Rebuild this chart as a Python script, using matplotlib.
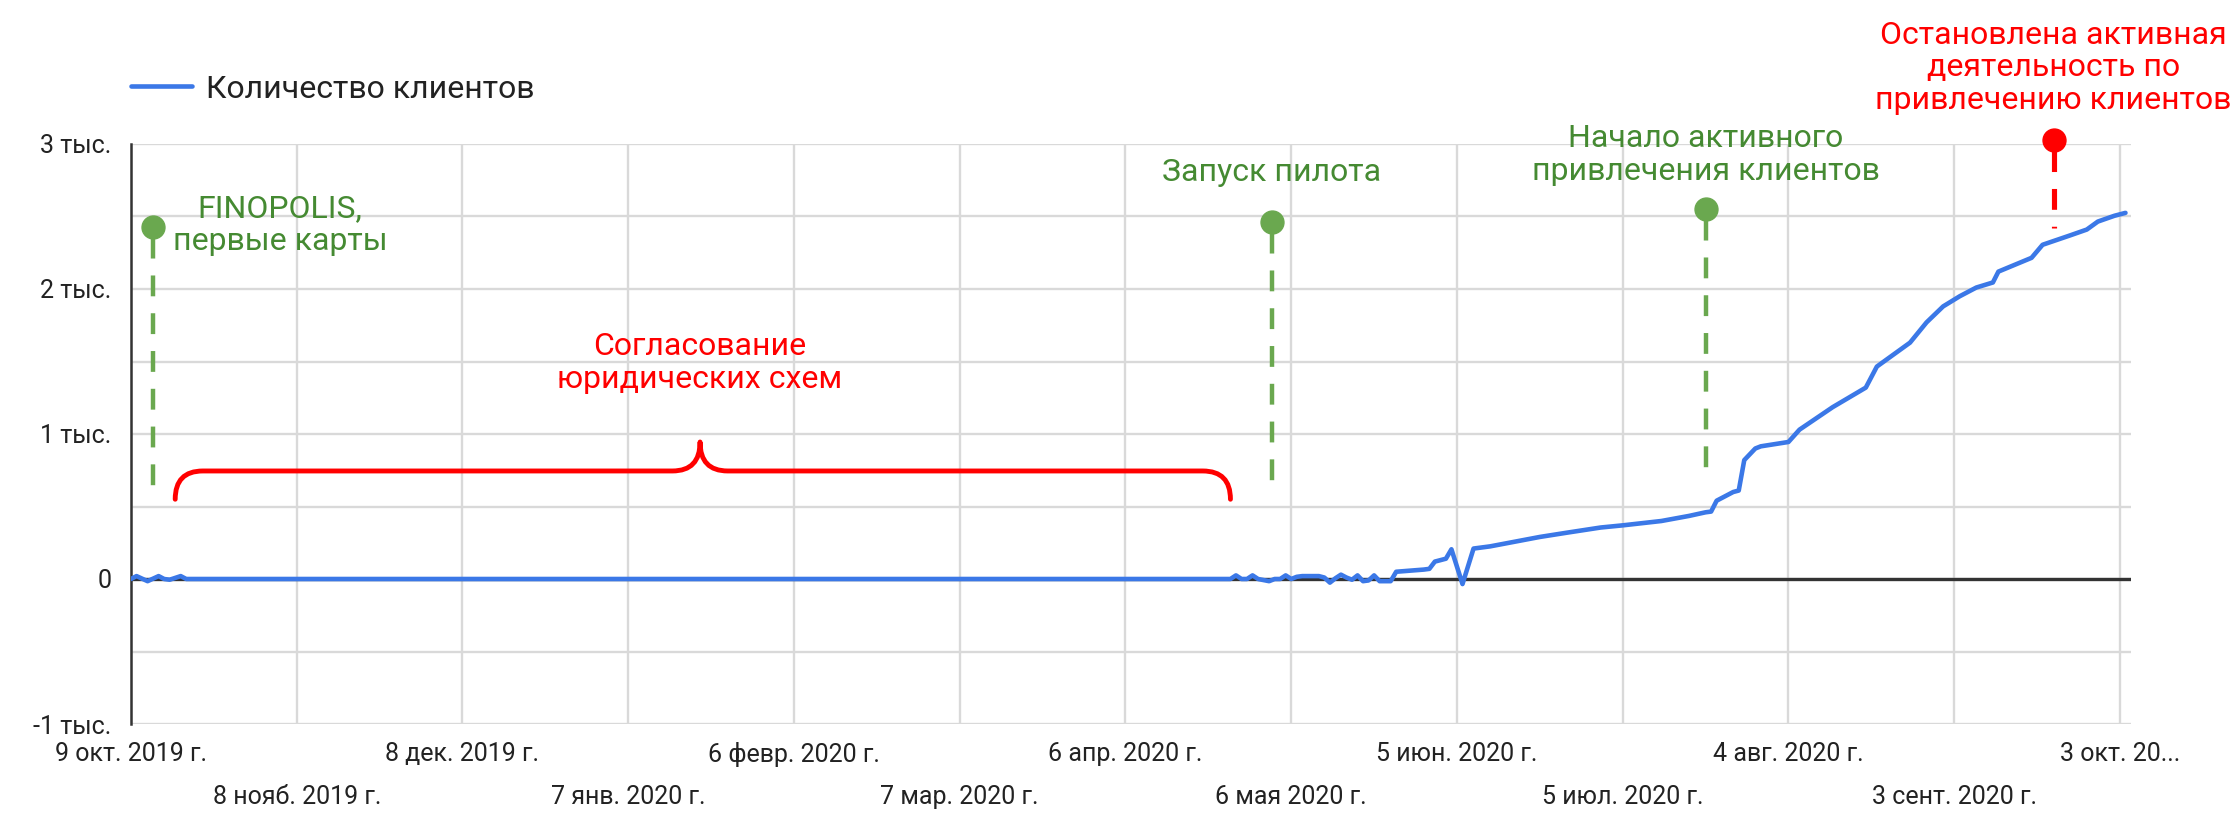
import numpy as np
import pandas as pd
import matplotlib
matplotlib.use('Agg')
import matplotlib.pyplot as plt
import matplotlib.dates as mdates
from matplotlib.path import Path
from matplotlib.patches import PathPatch

plt.rcParams['font.family'] = ['Roboto', 'DejaVu Sans']
plt.rcParams['lines.scale_dashes'] = False

# количество клиентов по датам
dates = ['2019-10-09', '2019-10-10', '2019-10-12', '2019-10-14', '2019-10-15', '2019-10-16',
         '2019-10-18', '2019-10-19', '2020-04-25', '2020-04-26', '2020-04-27', '2020-04-28',
         '2020-04-29', '2020-04-30', '2020-05-02', '2020-05-03', '2020-05-04', '2020-05-05',
         '2020-05-06', '2020-05-07', '2020-05-08', '2020-05-11', '2020-05-12', '2020-05-13',
         '2020-05-14', '2020-05-15', '2020-05-16', '2020-05-17', '2020-05-18', '2020-05-19',
         '2020-05-20', '2020-05-21', '2020-05-22', '2020-05-24', '2020-05-25', '2020-05-30',
         '2020-05-31', '2020-06-01', '2020-06-03', '2020-06-04', '2020-06-06', '2020-06-08',
         '2020-06-11', '2020-06-20', '2020-06-25', '2020-07-01', '2020-07-05', '2020-07-12',
         '2020-07-17', '2020-07-20', '2020-07-21', '2020-07-22', '2020-07-25', '2020-07-26',
         '2020-07-27', '2020-07-29', '2020-07-30', '2020-08-04', '2020-08-06', '2020-08-12',
         '2020-08-14', '2020-08-18', '2020-08-20', '2020-08-26', '2020-08-29', '2020-09-01',
         '2020-09-04', '2020-09-07', '2020-09-10', '2020-09-11', '2020-09-17', '2020-09-19',
         '2020-09-24', '2020-09-27', '2020-09-29', '2020-10-02', '2020-10-04']
clients = [0, 20, -15, 20, 0, -5,
           20, 0, 0, 25, 0, 0,
           25, 0, -15, 0, 0, 25,
           0, 15, 20, 20, 10, -25,
           5, 30, 10, -5, 25, -15,
           -10, 25, -15, -15, 50, 65,
           70, 120, 140, 205, -35, 210,
           225, 290, 320, 355, 370, 400,
           435, 460, 465, 540, 600, 610,
           820, 900, 915, 945, 1030, 1185,
           1230, 1320, 1465, 1630, 1770, 1880,
           1950, 2010, 2045, 2120, 2215, 2305,
           2370, 2410, 2465, 2505, 2525]

tick_dates = ['2019-10-09', '2019-11-08', '2019-12-08', '2020-01-07', '2020-02-06', '2020-03-07',
              '2020-04-06', '2020-05-06', '2020-06-05', '2020-07-05', '2020-08-04', '2020-09-03',
              '2020-10-03']
tick_labels = ['9 окт. 2019 г.', '8 нояб. 2019 г.', '8 дек. 2019 г.', '7 янв. 2020 г.',
               '6 февр. 2020 г.', '7 мар. 2020 г.', '6 апр. 2020 г.', '6 мая 2020 г.',
               '5 июн. 2020 г.', '5 июл. 2020 г.', '4 авг. 2020 г.', '3 сент. 2020 г.',
               '3 окт. 20...']

y_ticks = [-1000, 0, 1000, 2000, 3000]
y_labels = ['-1 тыс.', '0', '1 тыс.', '2 тыс.', '3 тыс.']

# события: дата, верх и низ пунктира, подпись
event_dates = ['2019-10-13', '2020-05-02 12:00', '2020-07-20', '2020-09-21']
event_top = [2430, 2460, 2550, 3030]
event_bottom = [600, 640, 720, 2420]
event_kind = ['good', 'good', 'good', 'bad']
event_texts = ['FINOPOLIS,\nпервые карты', 'Запуск пилота',
               'Начало активного\nпривлечения клиентов',
               'Остановлена активная\nдеятельность по\nпривлечению клиентов']
text_dates = ['2019-11-05', '2020-05-02 12:00', '2020-07-20', '2020-09-21']
text_y = [2440, 2800, 2925, 3525]

# фигурная скобка: левый край, середина, правый край
brace_dates = ['2019-10-17', '2020-01-20', '2020-04-25']
brace_ends, brace_bar, brace_peak = 550, 745, 945
brace_text = 'Согласование\nюридических схем'
brace_text_y = 1490

BLUE = '#3b78e7'
GREEN_TXT = '#458a32'
GREEN = '#6aa84f'
RED = '#ff0000'
GRID = '#d9d9d9'
TXT = '#222222'

fig = plt.figure(figsize=(22.39, 8.16), dpi=100)
ax = fig.add_axes([131 / 2239, 92 / 816, 2000 / 2239, 580 / 816])

x = pd.to_datetime(dates)
ax.plot(x, clients, color=BLUE, lw=3.3, label='Количество клиентов', zorder=5,
        solid_joinstyle='round', solid_capstyle='round')
ax.axhline(0, color='#333333', lw=2.4, zorder=3)

ax.set_xlim(pd.Timestamp('2019-10-09'), pd.Timestamp('2020-10-05'))
ax.set_ylim(-1000, 3000)

td = pd.to_datetime(tick_dates)
ax.set_xticks(td[0::2])
ax.set_xticklabels(tick_labels[0::2])
ax.set_xticks(td[1::2], minor=True)
ax.set_xticklabels(tick_labels[1::2], minor=True)
ax.tick_params(axis='x', which='major', length=0, pad=13, labelsize=18, labelcolor=TXT)
ax.tick_params(axis='x', which='minor', length=0, pad=44, labelsize=18, labelcolor=TXT)

ax.set_yticks(y_ticks)
ax.set_yticklabels(y_labels)
ax.set_yticks([-500, 500, 1500, 2500], minor=True)
ax.tick_params(axis='y', which='both', length=0, pad=14, labelsize=18, labelcolor=TXT)

ax.grid(which='both', color=GRID, lw=1.7, zorder=0)
ax.set_axisbelow(True)
for s in ['top', 'right', 'bottom']:
    ax.spines[s].set_visible(False)
ax.spines['left'].set_color('#333333')
ax.spines['left'].set_linewidth(1.8)

# события
for d, top, bot, kind, txt, tdate, ty in zip(event_dates, event_top, event_bottom, event_kind,
                                             event_texts, text_dates, text_y):
    c = GREEN if kind == 'good' else RED
    tc = GREEN_TXT if kind == 'good' else RED
    lw = 3.2 if kind == 'good' else 3.7
    dt = pd.Timestamp(d)
    ax.plot([dt, dt], [top, bot], color=c, lw=lw, ls=(19.5, (15, 12.2)),
            clip_on=False, zorder=6, solid_capstyle='butt', dash_capstyle='butt')
    ax.plot([dt], [top], 'o', color=c, ms=16.5, clip_on=False, zorder=7)
    ax.text(pd.Timestamp(tdate), ty, txt, color=tc, fontsize=23, ha='center', va='center',
            linespacing=1.15, zorder=8)

# скобка
bx0, bxm, bx1 = [mdates.date2num(pd.Timestamp(d)) for d in brace_dates]
r = 5.0
verts = [(bx0, brace_ends), (bx0, brace_bar), (bx0 + r, brace_bar),
         (bxm - r, brace_bar), (bxm, brace_bar), (bxm, brace_peak),
         (bxm, brace_bar), (bxm + r, brace_bar),
         (bx1 - r, brace_bar), (bx1, brace_bar), (bx1, brace_ends)]
codes = [Path.MOVETO, Path.CURVE3, Path.CURVE3,
         Path.LINETO, Path.CURVE3, Path.CURVE3,
         Path.CURVE3, Path.CURVE3,
         Path.LINETO, Path.CURVE3, Path.CURVE3]
ax.add_patch(PathPatch(Path(verts, codes), fill=False, edgecolor=RED, lw=3.5,
                       capstyle='round', joinstyle='round', zorder=6))
ax.text(mdates.num2date(bxm), brace_text_y, brace_text, color=RED, fontsize=23,
        ha='center', va='center', linespacing=1.15, zorder=8)

fig.legend(loc='center left', bbox_to_anchor=(131 / 2239, 1 - 89 / 816), frameon=False,
           fontsize=23, handlelength=1.9, handletextpad=0.45, borderpad=0,
           borderaxespad=0, labelcolor=TXT)

fig.savefig('out.png', dpi=100, facecolor='white')
